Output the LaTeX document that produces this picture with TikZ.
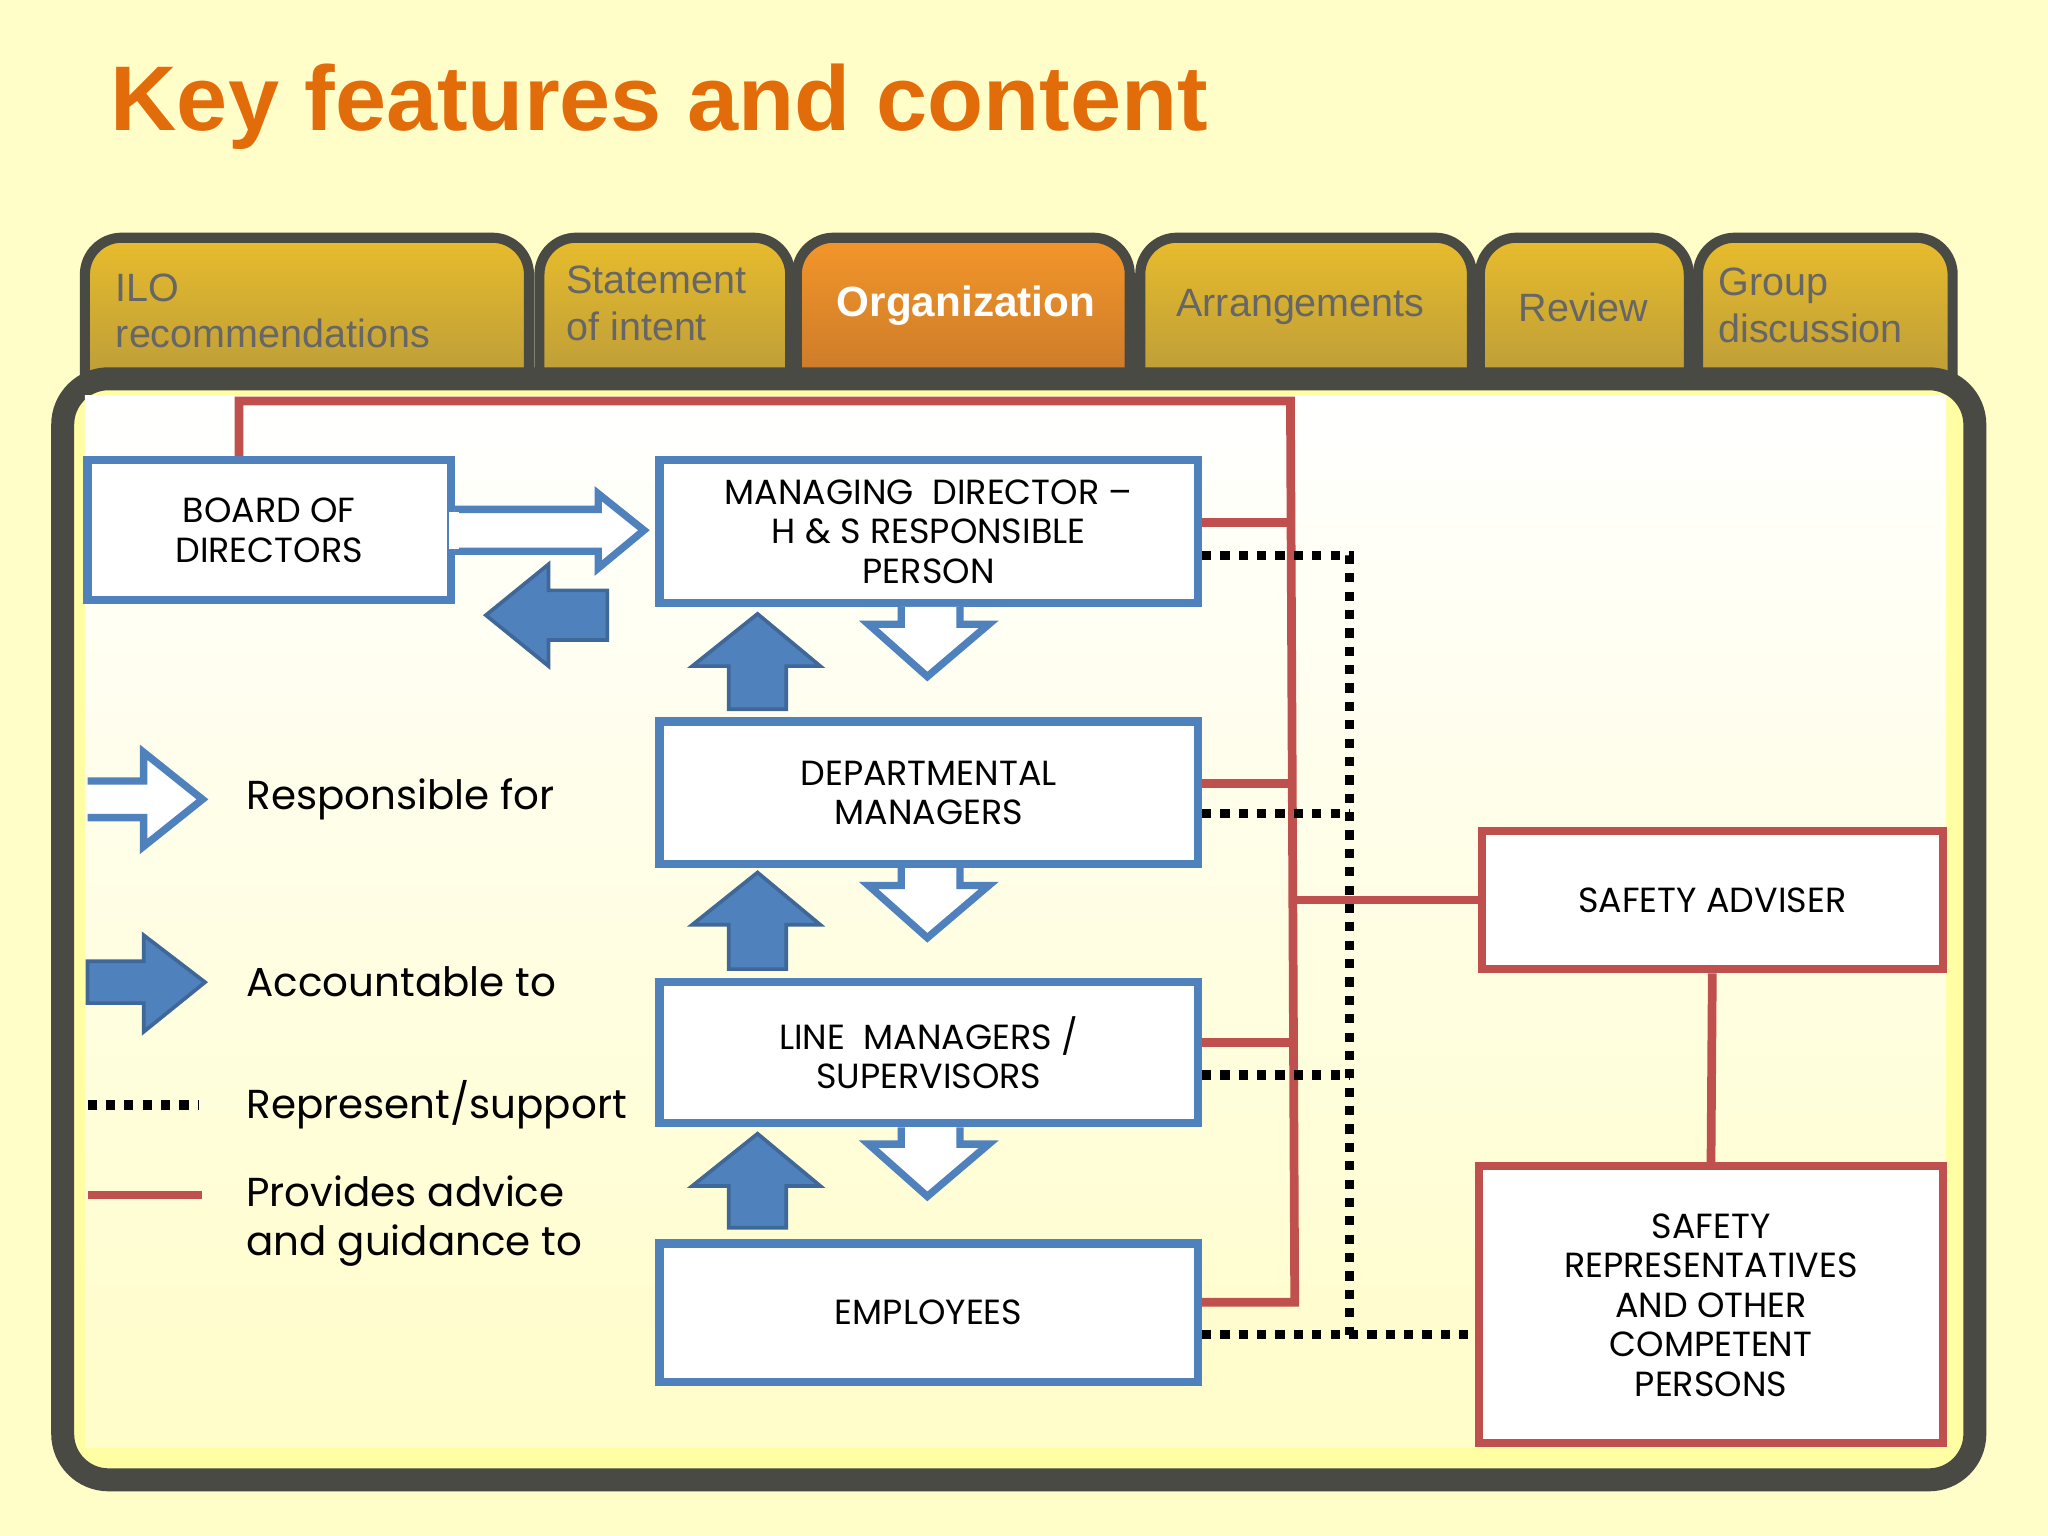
\documentclass[tikz,border=0pt]{standalone}
\usepackage{fontspec}
\setmainfont{Poppins}
\newfontfamily\arialf{Liberation Sans}
\usetikzlibrary{calc}
\definecolor{bgyel}{HTML}{FFFDC8}
\definecolor{ttl}{HTML}{E36C0A}
\definecolor{bblue}{HTML}{4F81BD}
\definecolor{rred}{HTML}{C0504D}
\definecolor{frame}{HTML}{4A4A44}
\definecolor{tg}{HTML}{E8BC2C}
\definecolor{tgd}{HTML}{B89A3A}
\definecolor{to}{HTML}{F3962A}
\definecolor{tod}{HTML}{C8782A}
\tikzset{
  box/.style={draw=bblue,line width=1.8pt,fill=white,align=center,font=\fontsize{7.6}{8.6}\selectfont,inner sep=0pt},
  rbox/.style={box,draw=rred},
  adv/.style={draw=rred,line width=1.9pt},
  rep/.style={draw=black,line width=2pt,dotted},
  hollow/.style={draw=bblue,line width=1.6pt,fill=white},
  solid/.style={draw=bblue!80!black,line width=0.8pt,fill=bblue},
  tabtxt/.style={anchor=west,align=left,inner sep=0pt,font=\arialf\fontsize{8.6}{10.2}\selectfont,text=black!60},
  legtxt/.style={anchor=west,align=left,inner sep=0pt,font=\fontsize{8.8}{10.8}\selectfont}
}
\begin{document}
\begin{tikzpicture}[x=0.01cm,y=-0.01cm]
\fill[bgyel] (0,0) rectangle (1568,1176);
\node[anchor=base west,inner sep=0pt,font=\arialf\bfseries\fontsize{20}{24}\selectfont,text=ttl] (title) at (84,100) {Key features and content};

% tabs
\foreach \a/\b/\c/\d in {65/405/tg/tgd,413/605/tg/tgd,610/865/to/tod,873/1127/tg/tgd,1133/1293/tg/tgd,1300/1495/tg/tgd}
  \draw[draw=frame,line width=2.2pt,rounded corners=8pt,top color=\c,bottom color=\d] (\a,300) -- (\a,182) -- (\b,182) -- (\b,300);
\node[tabtxt] (t1) at (88,238) {ILO\\recommendations};
\node[tabtxt] (t2) at (433,232) {Statement\\of intent};
\node[tabtxt,font=\arialf\bfseries\fontsize{9.2}{11}\selectfont,text=white] (t3) at (640,234) {Organization};
\node[tabtxt] (t4) at (900,235) {Arrangements};
\node[tabtxt] (t5) at (1162,235) {Review};
\node[tabtxt] (t6) at (1315,234) {Group\\discussion};

% frame
\draw[frame,line width=5pt,rounded corners=10pt,fill=bgyel!70!yellow!80!white] (48,290) rectangle (1512,1133);
\shade[top color=white,bottom color=bgyel] (65,303) rectangle (1490,1108);

% boxes
\node[box,minimum width=2.78cm,minimum height=1.07cm] (bod) at (206,406) {BOARD OF\\DIRECTORS};
\node[box,minimum width=4.12cm,minimum height=1.09cm] (md) at (711,407) {MANAGING\ \ DIRECTOR --\\H \& S RESPONSIBLE\\PERSON};
\node[box,minimum width=4.12cm,minimum height=1.09cm] (dm) at (711,607) {DEPARTMENTAL\\MANAGERS};
\node[box,minimum width=4.12cm,minimum height=1.08cm] (lm) at (711,806) {LINE\ \ MANAGERS /\\SUPERVISORS};
\node[box,minimum width=4.12cm,minimum height=1.06cm] (emp) at (711,1005) {EMPLOYEES};
\node[rbox,minimum width=3.53cm,minimum height=1.06cm] (sa) at (1311,689) {SAFETY ADVISER};
\node[rbox,minimum width=3.55cm,minimum height=2.12cm] (sr) at (1310,999) {SAFETY\\REPRESENTATIVES\\AND OTHER\\COMPETENT\\PERSONS};

% red advice lines
\coordinate (rtop) at (988,307);
\coordinate (rbot) at ($(emp.east)+(71,-8)$);
\draw[adv] (bod.north -| 183,0) -- (183,307) -- (rtop) -- (rbot) -- ($(emp.east)+(0,-8)$);
\draw[adv] ($(md.east)+(0,-7)$) -- +(71,0);
\draw[adv] ($(dm.east)+(0,-7)$) -- +(71,0);
\draw[adv] ($(lm.east)+(0,-8)$) -- +(71,0);
\draw[adv] (sa.west) -- (988,689);
\draw[adv] (sa.south) -- (sr.north);

% dotted represent lines
\coordinate (dbot) at (1033,1022);
\draw[rep] ($(md.east)+(0,18)$) -- (1033,425) -- (dbot);
\draw[rep] ($(dm.east)+(0,16)$) -- (1033,623);
\draw[rep] ($(lm.east)+(0,17)$) -- (1033,823);
\draw[rep] ($(emp.east)+(0,17)$) -- (sr.west |- dbot);

% arrows
\draw[hollow] (bod.east |- 0,390) -- (458,390) -- (458,378) -- (493,406) -- (458,435) -- (458,422) -- (bod.east |- 0,422);
\fill[white] ([xshift=-1.2pt]bod.east |- 0,392) rectangle ([xshift=1pt]bod.east |- 0,420);
\draw[solid] (465,452) -- (420,452) -- (420,432) -- (372,471) -- (420,510) -- (420,490) -- (465,490) -- cycle;
\foreach \t/\hb/\bt in {470/510/543,668/708/742,868/908/940}
  \draw[solid] (558,\bt) -- (558,\hb) -- (530,\hb) -- (580,\t) -- (628,\hb) -- (602,\hb) -- (602,\bt) -- cycle;
\foreach \s/\tp in {md/518,dm/718,lm/916}
  \draw[hollow] (\s.south -| 690,0) -- (690,{\tp-40}) -- (665,{\tp-40}) -- (710,\tp) -- (757,{\tp-40}) -- (735,{\tp-40}) -- (\s.south -| 735,0);

% legend
\draw[hollow] (67,598) -- (110,598) -- (110,576) -- (155,612) -- (110,648) -- (110,626) -- (67,626);
\draw[solid] (67,736) -- (110,736) -- (110,716) -- (157,752) -- (110,790) -- (110,768) -- (67,768) -- cycle;
\coordinate (l3a) at (67,846); \coordinate (l3b) at (152,846);
\draw[rep] (l3a) -- (l3b);
\coordinate (l4a) at (67,915); \coordinate (l4b) at (155,915);
\draw[adv] (l4a) -- (l4b);
\node[legtxt] (lg1) at (188,612) {Responsible for};
\node[legtxt] (lg2) at (188,752) {Accountable to};
\node[legtxt] (lg3) at (188,846) {Represent/support};
\node[legtxt] (lg4) at (188,935) {Provides advice\\and guidance to};
\end{tikzpicture}
\end{document}
